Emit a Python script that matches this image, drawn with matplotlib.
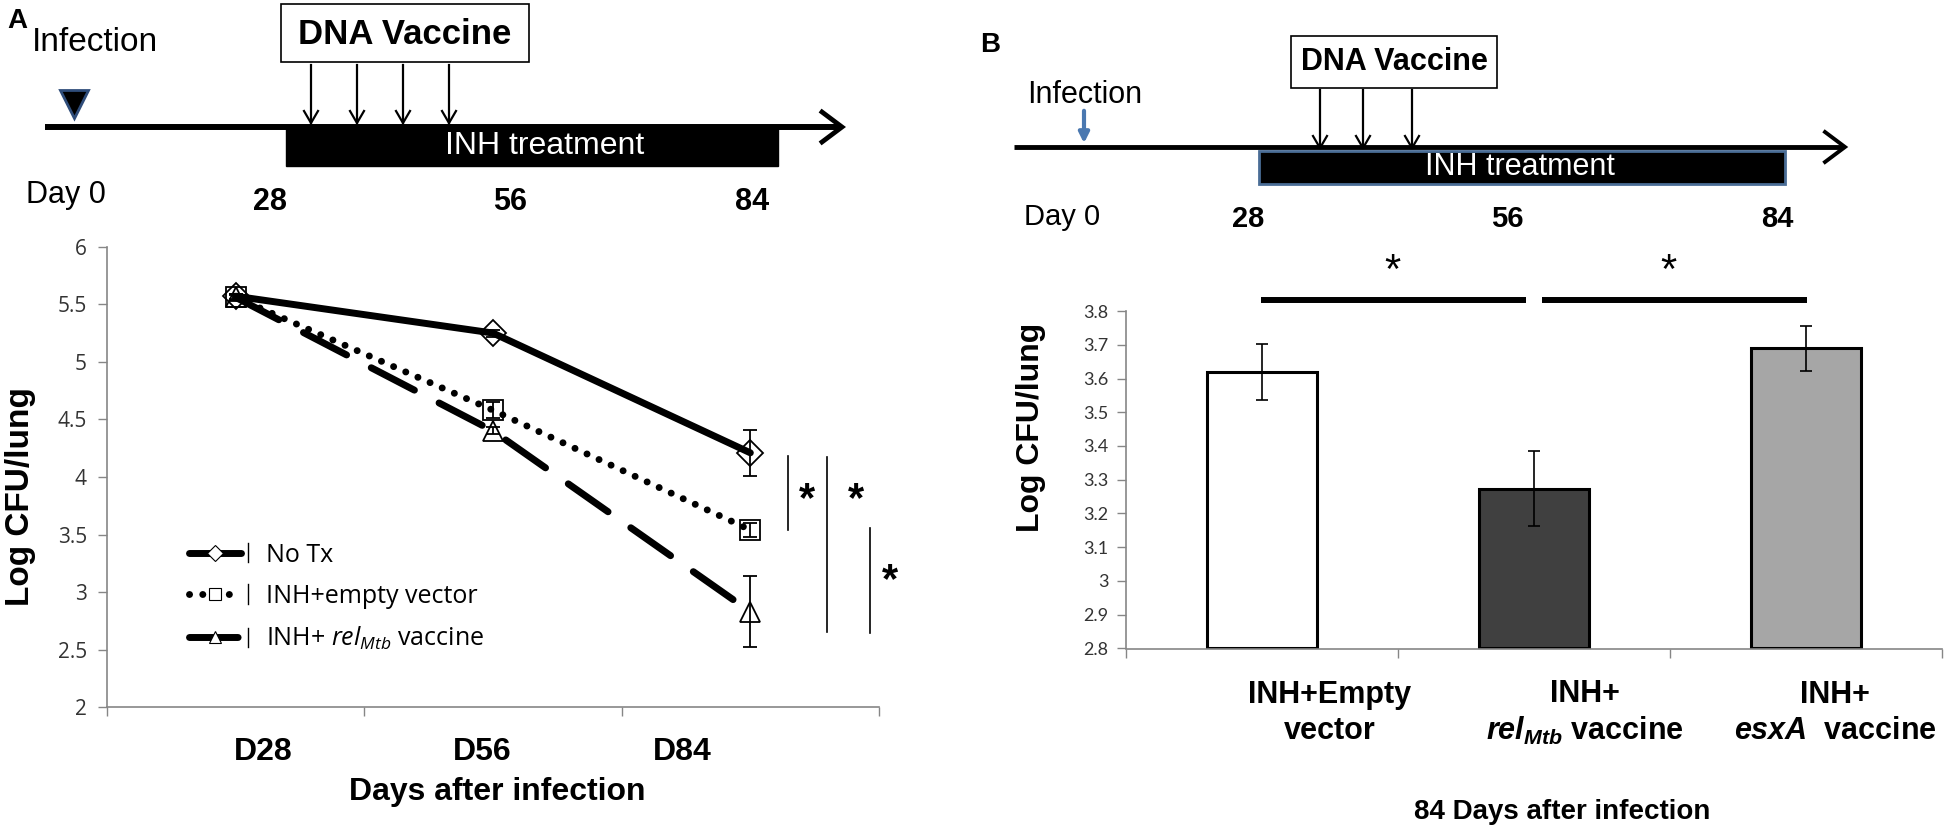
import numpy as np
import matplotlib
matplotlib.use('Agg')
import matplotlib.pyplot as plt
from matplotlib.patches import Rectangle
from matplotlib.lines import Line2D
from matplotlib.legend_handler import HandlerBase

# panel A data
days = ['D28', 'D56', 'D84']
no_tx = [5.57, 5.25, 4.21]
no_tx_err = [0.02, 0.03, 0.20]
empty_vec = [5.56, 4.58, 3.54]
empty_vec_err = [0.03, 0.07, 0.06]
rel_vac = [5.56, 4.40, 2.83]
rel_vac_err = [0.02, 0.03, 0.31]
series_names = ['No Tx', 'INH+empty vector', r'INH+ $\mathit{rel}_{\mathit{Mtb}}$ vaccine']

# panel B data
groups = ['INH+Empty\nvector', 'INH+\n$\\mathbfit{rel}_{\\mathbfit{Mtb}}$ vaccine',
          'INH+\n$\\mathbfit{esxA}$  vaccine']
cfu84 = [3.62, 3.274, 3.689]
cfu84_err = [0.083, 0.11, 0.066]
bar_colors = ['white', '#404040', '#a6a6a6']

yticksA = np.arange(2, 6.01, 0.5)
yticksB = np.arange(2.8, 3.801, 0.1)

plt.rcParams['font.family'] = 'Liberation Sans'
plt.rcParams['mathtext.fontset'] = 'custom'
plt.rcParams['mathtext.rm'] = 'Open Sans'
plt.rcParams['mathtext.it'] = 'Open Sans:italic'
plt.rcParams['mathtext.bfit'] = 'Liberation Sans:italic:bold'

W, H = 1950, 833
fig = plt.figure(figsize=(W / 100, H / 100), dpi=100)


def rect(x0, y0, x1, y1):
    return [x0 / W, 1 - y1 / H, (x1 - x0) / W, (y1 - y0) / H]


# overlay in pixel coordinates for the timelines and annotations
ov = fig.add_axes([0, 0, 1, 1])
ov.set_xlim(0, W)
ov.set_ylim(H, 0)
ov.axis('off')


def down_arrow(x, y0, y1, color='black', lw=1.6, hw=7, hl=12):
    ov.plot([x, x], [y0, y1], color=color, lw=lw)
    ov.plot([x - hw, x, x + hw], [y1 - hl, y1, y1 - hl], color=color, lw=lw)


def timeline(x0, x1, y, lw):
    ov.plot([x0, x1 - 2], [y, y], color='black', lw=lw, solid_capstyle='butt')
    ov.plot([x1 - 20, x1, x1 - 20], [y - 15, y, y + 15], color='black', lw=lw * 0.8,
            solid_joinstyle='miter')


# ---- timeline A
ov.text(17, 21, 'A', fontsize=20, fontweight='bold', ha='center', va='center')
ov.text(32, 42, 'Infection', fontsize=24, ha='left', va='center')
ov.plot(74, 104, marker='v', ms=20, mfc='black', mec='#2f4d7a', mew=2)
timeline(45, 842, 127, 4.3)
ov.add_patch(Rectangle((286, 125), 778 - 286, 41, color='black'))
ov.text(545, 146, 'INH treatment', color='white', fontsize=23, ha='center', va='center')
ov.add_patch(Rectangle((281, 4), 248, 58, facecolor='white', edgecolor='black', lw=1.2))
ov.text(405, 34, 'DNA Vaccine', fontsize=25, fontweight='bold', ha='center', va='center')
for ax_ in [311, 357, 403, 449]:
    down_arrow(ax_, 65, 123)
ov.text(26, 195, 'Day 0', fontsize=22, ha='left', va='center')
for lab, xx in zip(['28', '56', '84'], [270, 510, 752]):
    ov.text(xx, 202, lab, fontsize=22, fontweight='bold', ha='center', va='center')

# ---- timeline B
ov.text(990, 45, 'B', fontsize=20, fontweight='bold', ha='center', va='center')
ov.text(1027, 95, 'Infection', fontsize=22, ha='left', va='center')
ov.annotate('', xy=(1084, 146), xytext=(1084, 108),
            arrowprops=dict(arrowstyle='-|>', color='#4a78b0', lw=3, mutation_scale=15))
timeline(1014, 1845, 147, 3.5)
ov.add_patch(Rectangle((1259, 151), 1785 - 1259, 33, facecolor='black',
                       edgecolor='#4a6d96', lw=2))
ov.text(1520, 167, 'INH treatment', color='white', fontsize=22, ha='center', va='center')
ov.add_patch(Rectangle((1291, 36), 206, 52, facecolor='white', edgecolor='black', lw=1.2))
ov.text(1394, 62, 'DNA Vaccine', fontsize=22, fontweight='bold', ha='center', va='center')
for ax_ in [1320, 1363, 1412]:
    down_arrow(ax_, 90, 148)
ov.text(1024, 217, 'Day 0', fontsize=21, ha='left', va='center')
for lab, xx in zip(['28', '56', '84'], [1248, 1507, 1777]):
    ov.text(xx, 219, lab, fontsize=21, fontweight='bold', ha='center', va='center')

# ---- panel A chart
grey = '#868686'
axA = fig.add_axes(rect(107, 246.7, 879, 707.3))
axA.patch.set_alpha(0)
x = np.arange(len(days))
common = dict(color='black', lw=5, ecolor='black', elinewidth=1.3, capsize=5,
              capthick=1.3, mfc='none', mec='black', mew=1.3)
styleA = [dict(marker='D', ms=13, ls='-'),
          dict(marker='s', ms=15, ls=(0, (0.01, 1.9))),
          dict(marker='^', ms=15, ls=(0, (7, 4)))]
handles = []
for vals, errs, st in zip([no_tx, empty_vec, rel_vac], [no_tx_err, empty_vec_err, rel_vac_err],
                          styleA):
    handles.append(axA.errorbar(x, vals, yerr=errs, dash_capstyle='round',
                                solid_capstyle='round', **st, **common))
axA.set_xlim(-0.5, 2.5)
axA.set_ylim(2, 6)
axA.set_yticks(yticksA)
axA.set_yticklabels([f'{v:g}' for v in yticksA], fontfamily='Open Sans', fontsize=15,
                    color='#333333')
axA.set_xticks(np.arange(-0.5, 2.51, 1))
axA.set_xticklabels([])
for s in ['top', 'right']:
    axA.spines[s].set_visible(False)
for s in ['left', 'bottom']:
    axA.spines[s].set_color(grey)
    axA.spines[s].set_linewidth(1.2)
axA.tick_params(direction='out', length=6.5, width=1, color=grey, pad=8)
axA.set_ylabel('Log CFU/lung', fontsize=24, fontweight='bold')
axA.yaxis.set_label_coords((36 - 107) / 772, (707.3 - 497) / 460.6)


class ExcelLegend(HandlerBase):
    # Excel-style legend key: line, small white marker, error tick at the end
    def __init__(self, st):
        super().__init__()
        self.st = st

    def create_artists(self, legend, orig, xd, yd, width, height, fontsize, trans):
        y = height / 2 - yd
        x0, x1 = -xd, width - xd
        ln = Line2D([x0, x1], [y, y], color='black', lw=5, ls=self.st['ls'],
                    dash_capstyle='round', solid_capstyle='round')
        mk = Line2D([(x0 + x1) / 2], [y], marker=self.st['marker'], ms=self.st['ms'] * 0.6,
                    mfc='white', mec='black', mew=0.8, ls='none')
        tk = Line2D([x1 + 5, x1 + 5], [y - height * 0.55, y + height * 0.55],
                    color='black', lw=1)
        for a in (ln, mk, tk):
            a.set_transform(trans)
        return [ln, mk, tk]


leg = axA.legend(handles, series_names, loc='upper left',
                 bbox_to_anchor=(166 / W, 1 - 520 / H), bbox_transform=fig.transFigure,
                 frameon=False, prop={'family': 'Open Sans', 'size': 18},
                 handlelength=2.1, handletextpad=1.0, labelspacing=0.65,
                 handler_map={h: ExcelLegend(st) for h, st in zip(handles, styleA)})

for lab, xx in zip(days, [263, 482, 682]):
    ov.text(xx, 752, lab, fontsize=23, fontweight='bold', ha='center', va='center')
ov.text(497, 792, 'Days after infection', fontsize=23, fontweight='bold',
        ha='center', va='center')

# significance marks A
for xx, y0, y1 in [(788, 456, 530), (827, 457, 632), (870, 528, 633)]:
    ov.plot([xx, xx], [y0, y1], color='black', lw=1.2)
for xx, yy in [(807, 500), (856, 500), (890, 581)]:
    ov.text(xx, yy, '*', fontsize=30, fontweight='bold', ha='center', va='center')

# ---- panel B chart
axB = fig.add_axes(rect(1126, 311, 1942, 648.5))
axB.patch.set_alpha(0)
axB.bar(x, np.array(cfu84) - 2.8, bottom=2.8, width=0.405, color=bar_colors,
        edgecolor='black', lw=2.2, yerr=cfu84_err,
        error_kw=dict(ecolor='black', elinewidth=1.2, capsize=4, capthick=1.2))
axB.set_xlim(-0.5, 2.5)
axB.set_ylim(2.8, 3.8)
axB.set_yticks(yticksB)
axB.set_yticklabels([f'{v:g}' for v in yticksB], fontfamily='Lato', fontsize=13,
                    color='#333333')
axB.set_xticks(np.arange(-0.5, 2.51, 1))
axB.set_xticklabels([])
for s in ['top', 'right']:
    axB.spines[s].set_visible(False)
for s in ['left', 'bottom']:
    axB.spines[s].set_color(grey)
    axB.spines[s].set_linewidth(1.2)
axB.tick_params(direction='out', length=6.5, width=1, color=grey, pad=6)
axB.set_ylabel('Log CFU/lung', fontsize=23, fontweight='bold')
axB.yaxis.set_label_coords((1046 - 1126) / 816, (648.5 - 427) / 337.5)

for lab, xx in zip(groups, [1330, 1585, 1835]):
    ov.text(xx, 713, lab, fontsize=22, fontweight='bold', ha='center', va='center',
            linespacing=1.25)
ov.text(1562, 812, '84 Days after infection', fontsize=20, fontweight='bold',
        ha='center', va='center')

# significance marks B
for x0, x1, sx in [(1261, 1526, 1392), (1542, 1807, 1668)]:
    ov.plot([x0, x1], [300, 300], color='black', lw=4.3, solid_capstyle='butt')
    ov.text(sx, 272, '*', fontsize=30, ha='center', va='center')

fig.savefig('out.png', dpi=100)
